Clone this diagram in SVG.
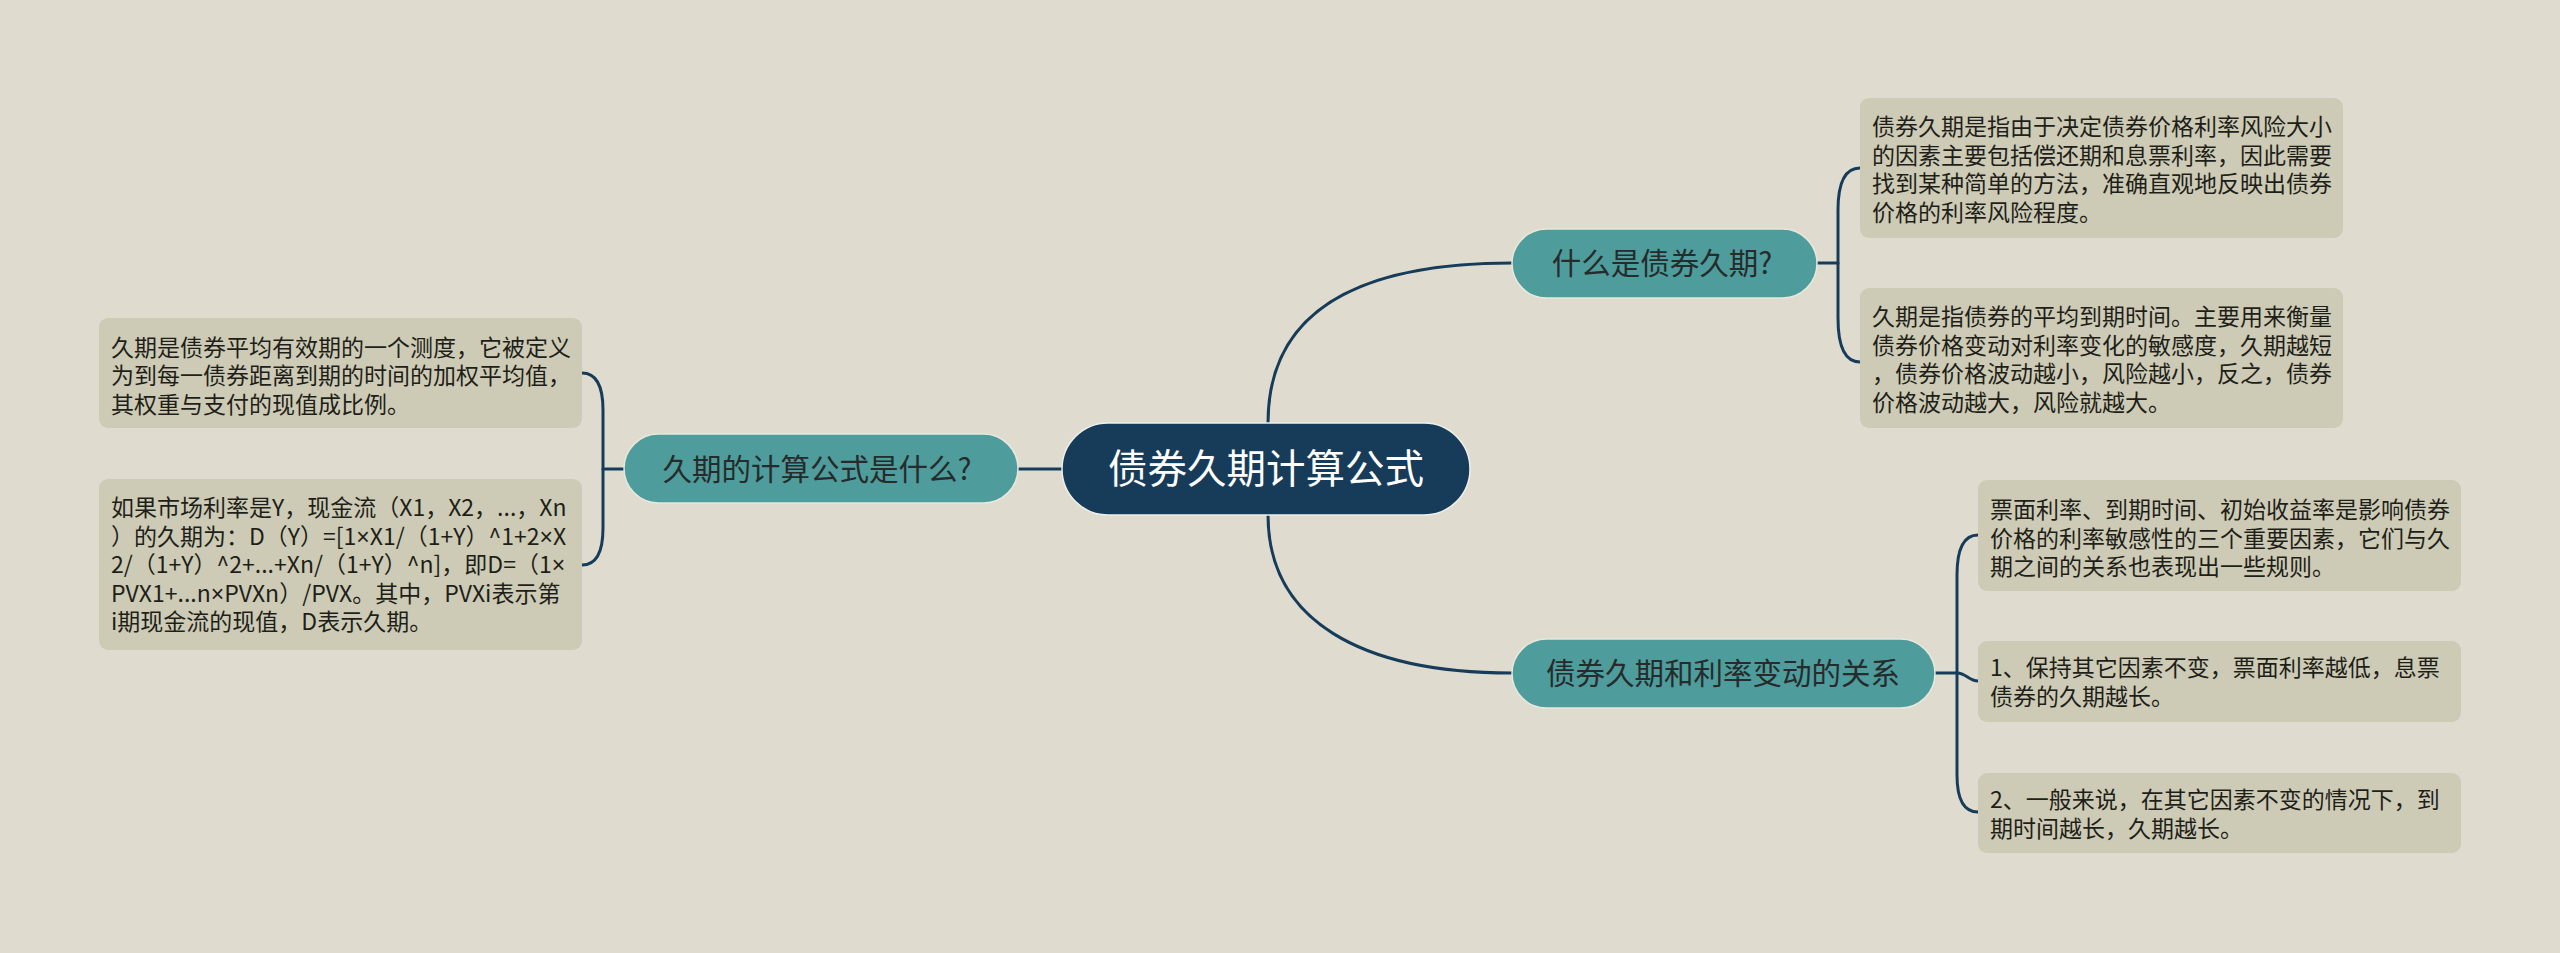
<svg xmlns="http://www.w3.org/2000/svg" width="2560" height="953" viewBox="0 0 2560 953">
<style>
.bg{fill:#dfdccf}
.root{fill:#173c5a;stroke:#eef0ea;stroke-width:1.5}
.mid{fill:#4e9c9c;stroke:#e6e8dc;stroke-width:1.5}
.leaf{fill:#cdcbb5}
.rt{font-family:"Noto Sans CJK SC","Noto Sans",sans-serif;font-size:39.5px;fill:#ffffff;text-anchor:middle}
.mt{font-family:"Noto Sans CJK SC","Noto Sans",sans-serif;font-size:29.5px;fill:#262b2b;text-anchor:middle}
.lt{font-family:"Noto Sans CJK SC","Noto Sans",sans-serif;font-size:23px;fill:#1f1f1a}
.x{font-family:"Liberation Sans",sans-serif}
.conn path{fill:none;stroke:#173c5a;stroke-width:3;stroke-linecap:round}
</style>
<rect class="bg" x="0" y="0" width="2560" height="953"/>
<g class="conn" id="connectors">
<path d="M1268,423 C1268,310 1360,263 1512,263"/>
<path d="M1268,515 C1268,620 1360,673 1512,673"/>
<path d="M1062,469 L1018,469"/>
<path d="M1817,263 L1838,263"/>
<path d="M1860,168 C1845,168 1838,182 1838,210 L1838,318 C1838,346 1845,362 1860,362"/>
<path d="M624,469 L603,469"/>
<path d="M582,373 C597,373 603,387 603,410 L603,528 C603,552 597,565 582,565"/>
<path d="M1935,673 L1957,673"/>
<path d="M1978,535 C1963,535 1957,550 1957,575 L1957,775 C1957,798 1963,812 1978,812"/>
<path d="M1957,673 C1966,673 1969,681 1978,681"/>
</g>
<g id="root">
<rect class="root" x="1062" y="423" width="408" height="92" rx="46"/>
<text class="rt" x="1266" y="483">债券久期计算公式</text>
</g>
<g id="n-what">
<rect class="mid" x="1512" y="229" width="305" height="69" rx="34.5"/>
<text class="mt" x="1662" y="274">什么是债券久期?</text>
</g>
<g id="n-formula">
<rect class="mid" x="624" y="434" width="394" height="69" rx="34.5"/>
<text class="mt" x="817" y="480">久期的计算公式是什么?</text>
</g>
<g id="n-relation">
<rect class="mid" x="1512" y="639" width="423" height="69" rx="34.5"/>
<text class="mt" x="1723" y="684">债券久期和利率变动的关系</text>
</g>
<g id="leaf-r1">
<rect class="leaf" x="1860" y="98" width="483" height="140" rx="9"/>
<text class="lt" x="1872" y="135">债券久期是指由于决定债券价格利率风险大小</text>
<text class="lt" x="1872" y="163.5">的因素主要包括偿还期和息票利率，因此需要</text>
<text class="lt" x="1872" y="192">找到某种简单的方法，准确直观地反映出债券</text>
<text class="lt" x="1872" y="220.5">价格的利率风险程度。</text>
</g>
<g id="leaf-r2">
<rect class="leaf" x="1860" y="288" width="483" height="140" rx="9"/>
<text class="lt" x="1872" y="325">久期是指债券的平均到期时间。主要用来衡量</text>
<text class="lt" x="1872" y="353.5">债券价格变动对利率变化的敏感度，久期越短</text>
<text class="lt" x="1872" y="382">，债券价格波动越小，风险越小，反之，债券</text>
<text class="lt" x="1872" y="410.5">价格波动越大，风险就越大。</text>
</g>
<g id="leaf-l1">
<rect class="leaf" x="99" y="318" width="483" height="110" rx="9"/>
<text class="lt" x="111" y="355.5">久期是债券平均有效期的一个测度，它被定义</text>
<text class="lt" x="111" y="384">为到每一债券距离到期的时间的加权平均值，</text>
<text class="lt" x="111" y="412.5">其权重与支付的现值成比例。</text>
</g>
<g id="leaf-l2">
<rect class="leaf" x="99" y="479" width="483" height="171" rx="9"/>
<text class="lt" x="111" y="516">如果市场利率是Y，现金流（X1，X2，...，Xn</text>
<text class="lt" x="111" y="544.5">）的久期为：D（Y）=[1<tspan class="x">×</tspan>X1/（1+Y）^1+2<tspan class="x">×</tspan>X</text>
<text class="lt" x="111" y="573">2/（1+Y）^2+...+Xn/（1+Y）^n]，即D=（1<tspan class="x">×</tspan></text>
<text class="lt" x="111" y="601.5">PVX1+...n<tspan class="x">×</tspan>PVXn）/PVX。其中，PVXi表示第</text>
<text class="lt" x="111" y="630">i期现金流的现值，D表示久期。</text>
</g>
<g id="leaf-r3">
<rect class="leaf" x="1978" y="480" width="483" height="111" rx="9"/>
<text class="lt" x="1990" y="518">票面利率、到期时间、初始收益率是影响债券</text>
<text class="lt" x="1990" y="546.5">价格的利率敏感性的三个重要因素，它们与久</text>
<text class="lt" x="1990" y="575">期之间的关系也表现出一些规则。</text>
</g>
<g id="leaf-r4">
<rect class="leaf" x="1978" y="641" width="483" height="81" rx="9"/>
<text class="lt" x="1990" y="676">1、保持其它因素不变，票面利率越低，息票</text>
<text class="lt" x="1990" y="704.5">债券的久期越长。</text>
</g>
<g id="leaf-r5">
<rect class="leaf" x="1978" y="773" width="483" height="80" rx="9"/>
<text class="lt" x="1990" y="808">2、一般来说，在其它因素不变的情况下，到</text>
<text class="lt" x="1990" y="836.5">期时间越长，久期越长。</text>
</g>
</svg>
